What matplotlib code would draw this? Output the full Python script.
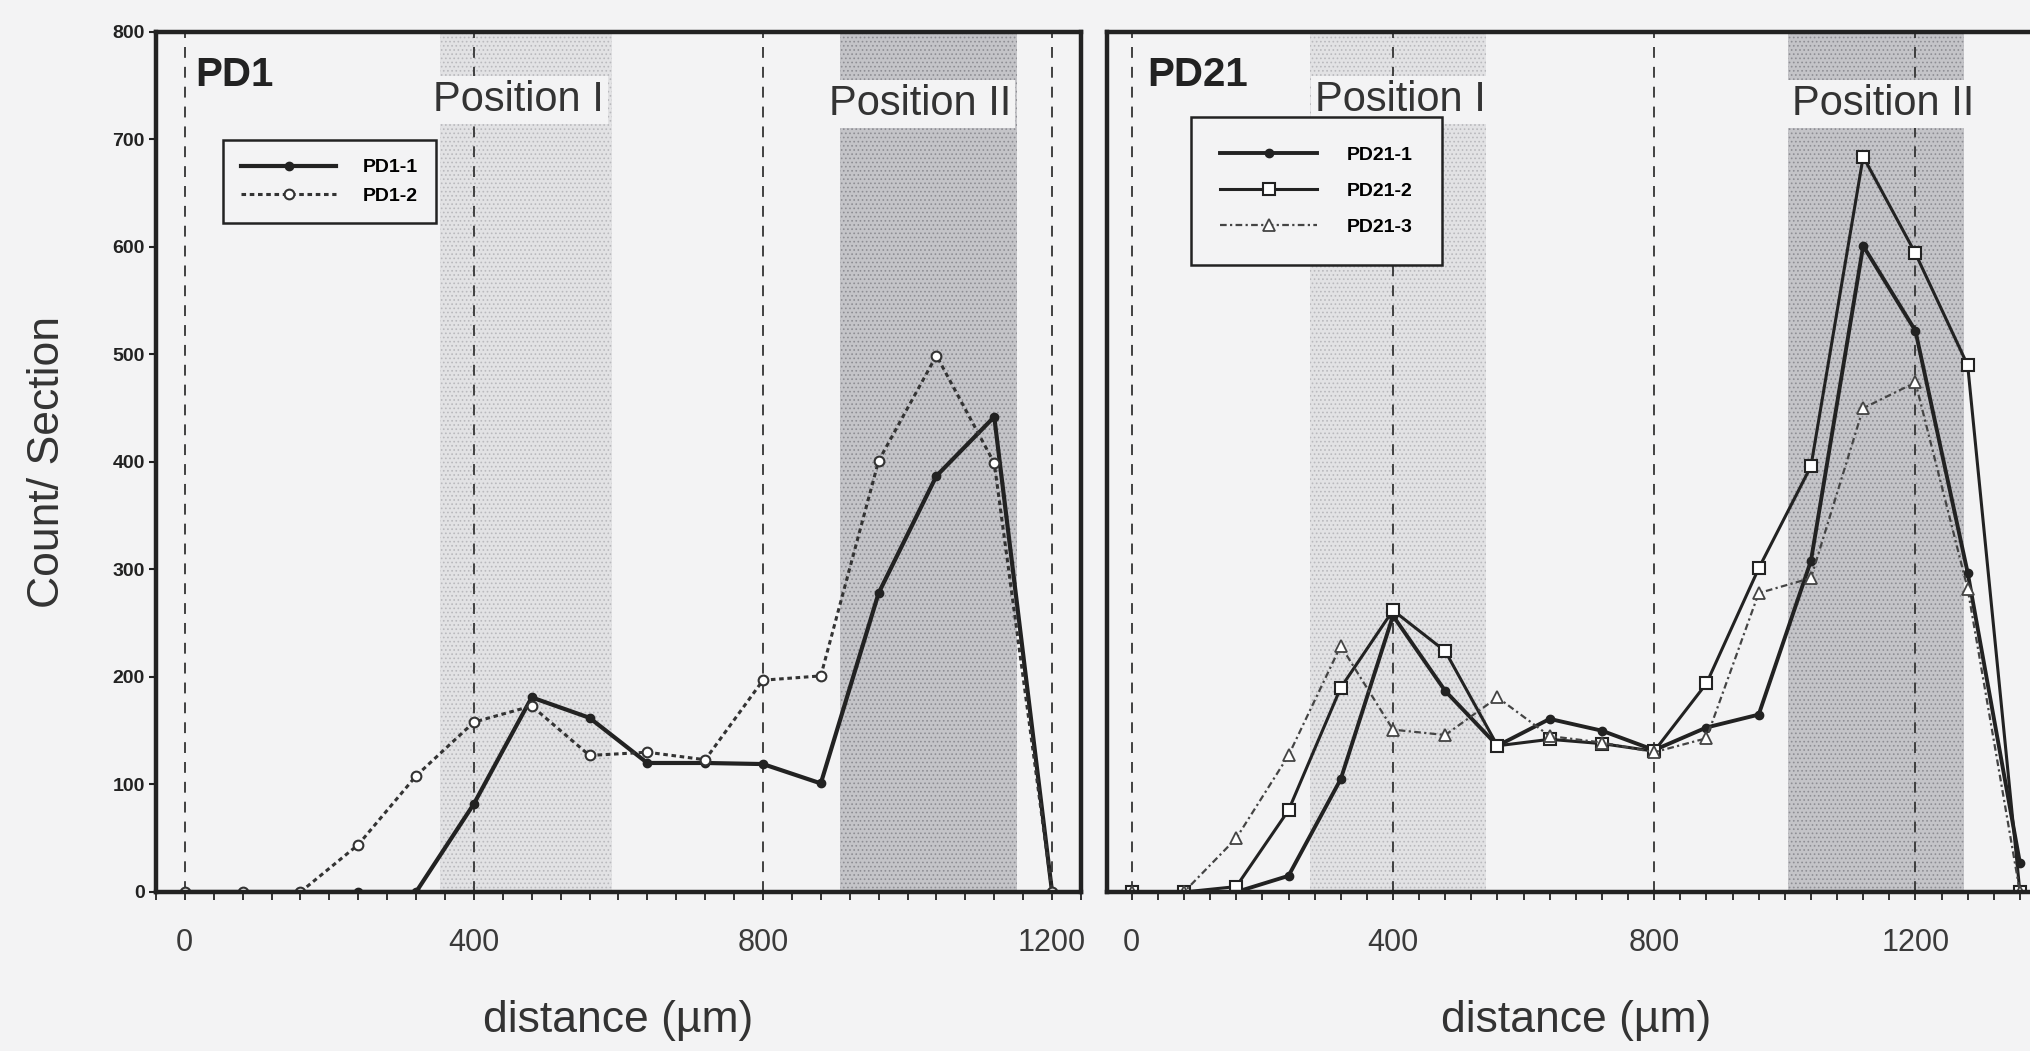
import matplotlib
matplotlib.use("Agg")
import matplotlib.pyplot as plt
from matplotlib.ticker import MultipleLocator, NullFormatter

# data (distance in um, count per section)
dist_pd1 = [0, 80, 160, 240, 320, 400, 480, 560, 640, 720, 800, 880, 960, 1040, 1120, 1200]
pd1_1 = [0, 0, 0, 0, 0, 82, 181, 162, 120, 120, 119, 101, 278, 387, 442, 0]
pd1_2 = [0, 0, 0, 44, 108, 158, 173, 127, 130, 123, 197, 201, 401, 499, 399, 0]

dist_pd21 = [0, 80, 160, 240, 320, 400, 480, 560, 640, 720, 800, 880, 960, 1040, 1120, 1200, 1280, 1360]
pd21_1 = [0, 0, 0, 15, 105, 257, 187, 136, 161, 150, 132, 153, 165, 308, 601, 522, 297, 27]
pd21_2 = [0, 0, 5, 76, 190, 262, 224, 136, 142, 138, 131, 194, 301, 396, 684, 594, 490, 0]
pd21_3 = [0, 0, 50, 127, 229, 151, 146, 181, 145, 139, 130, 143, 278, 292, 450, 474, 282, 0]

# shaded regions (Position I, Position II)
pd1_pos1 = (353, 591)
pd1_pos2 = (906, 1152)
pd21_pos1 = (273, 542)
pd21_pos2 = (1005, 1275)
guides = [0, 400, 800, 1200]

BG = "#f3f3f4"
INK = "#222222"
plt.rcParams["font.family"] = ["Liberation Sans", "DejaVu Sans"]
plt.rcParams["hatch.linewidth"] = 0.7

fig = plt.figure(figsize=(20.3, 10.51), dpi=100, facecolor=BG)
ax1 = fig.add_axes([0.0768, 0.1513, 0.4557, 0.8183])
ax2 = fig.add_axes([0.5453, 0.1513, 0.4626, 0.8183])


def decorate(ax, pos1, pos2, name, xlim):
    ax.set_facecolor(BG)
    ax.set_xlim(*xlim)
    ax.set_ylim(0, 800)
    ax.axvspan(*pos1, facecolor="#e2e2e4", hatch="....", edgecolor="#b9b9bd",
               linewidth=0, zorder=0)
    ax.axvspan(*pos2, facecolor="#c4c4c8", hatch="....", edgecolor="#8e8e94",
               linewidth=0, zorder=0)
    for g in guides:
        ax.axvline(g, color="#333333", lw=1.3, ls=(0, (6, 5)), zorder=1)
    for s in ax.spines.values():
        s.set_linewidth(3.2)
        s.set_color(INK)
        s.set_zorder(6)
    ax.set_xticks(guides)
    ax.xaxis.set_minor_locator(MultipleLocator(40))
    ax.tick_params(axis="x", which="both", direction="out", length=6, width=1.3,
                   colors=INK, labelsize=22, labelcolor="#3a3a3a", pad=20)
    ax.set_xlabel("distance (µm)", fontsize=32, color="#333333", labelpad=30)
    box = dict(facecolor=BG, edgecolor="none", pad=3)
    ax.text(462 if name == "PD1" else 412, 737,
            "Position I", fontsize=30, color="#333333", ha="center", va="center",
            bbox=box, zorder=4)
    ax.text(1017 if name == "PD1" else 1150, 733, "Position II", fontsize=30,
            color="#333333", ha="center", va="center", bbox=box, zorder=4)
    ax.text(15 if name == "PD1" else 24, 760, name, fontsize=29, fontweight="bold",
            color=INK, ha="left", va="center", zorder=4)


decorate(ax1, pd1_pos1, pd1_pos2, "PD1", (-40, 1240))
decorate(ax2, pd21_pos1, pd21_pos2, "PD21", (-38, 1400))

# left panel curves
ax1.plot(dist_pd1, pd1_1, color=INK, lw=3, marker="o", ms=6, mfc=INK, mec=INK,
         label="PD1-1", zorder=5)
ax1.plot(dist_pd1, pd1_2, color="#333333", lw=2.2, ls=(0, (1.5, 1.2)), marker="o",
         ms=7, mfc="white", mec="#333333", mew=1.5, label="PD1-2", zorder=5)

# right panel curves
ax2.plot(dist_pd21, pd21_1, color=INK, lw=2.8, marker="o", ms=6, mfc=INK, mec=INK,
         label="PD21-1", zorder=5)
ax2.plot(dist_pd21, pd21_2, color=INK, lw=2.2, marker="s", ms=8, mfc="white",
         mec=INK, mew=1.5, label="PD21-2", zorder=5)
ax2.plot(dist_pd21, pd21_3, color="#444444", lw=1.6, ls=(0, (3, 1.5, 1, 1.5)),
         marker="^", ms=8, mfc="white", mec="#444444", mew=1.3, label="PD21-3",
         zorder=5)

ax1.set_yticks(range(0, 801, 100))
ax1.tick_params(axis="y", direction="out", length=5, width=1.5, colors=INK,
                labelsize=14, pad=3)
for lab in ax1.get_yticklabels():
    lab.set_fontweight("bold")
ax1.set_ylabel("Count/ Section", fontsize=32, color="#333333", labelpad=32)

ax2.set_yticks([])
ax2.yaxis.set_major_formatter(NullFormatter())

legend_opts = [
    (ax1, (0.072, 0.874), dict(borderpad=0.95, labelspacing=0.55, handlelength=4.9,
                              handletextpad=1.35)),
    (ax2, (0.0895, 0.901), dict(borderpad=1.5, labelspacing=0.95, handlelength=5.0,
                               handletextpad=1.5)),
]
for ax, anchor, opts in legend_opts:
    leg = ax.legend(loc="upper left", bbox_to_anchor=anchor, borderaxespad=0,
                    fancybox=False, framealpha=1, facecolor=BG, edgecolor=INK,
                    prop={"weight": "bold", "size": 14}, **opts)
    leg.get_frame().set_linewidth(1.8)
    leg.set_zorder(7)

fig.savefig("out.png", dpi=100, facecolor=BG)
